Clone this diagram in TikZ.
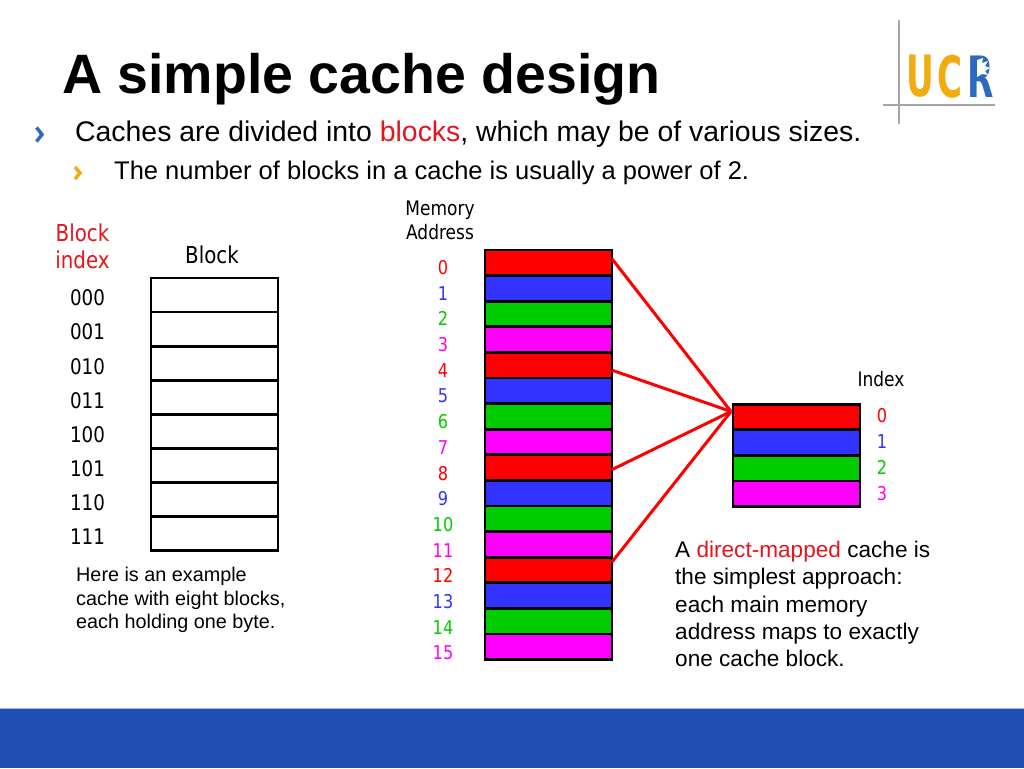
\documentclass[tikz,border=0pt]{standalone}
\usepackage{fontspec}
\setmainfont{Liberation Sans}
\newfontfamily\lbl[FakeStretch=0.85]{DejaVu Sans}
\newfontfamily\logof{DejaVu Sans}
\usetikzlibrary{calc}
\definecolor{cR}{RGB}{255,0,0}
\definecolor{cB}{RGB}{51,51,255}
\definecolor{cG}{RGB}{0,204,0}
\definecolor{cM}{RGB}{255,0,255}
\definecolor{txtR}{RGB}{230,20,30}
\definecolor{bar}{RGB}{32,78,178}
\definecolor{barlight}{RGB}{170,190,225}
\definecolor{ucy}{RGB}{240,172,16}
\definecolor{ucb}{RGB}{45,105,190}
\tikzset{
  x=1pt,y=-1pt,
  cell/.style={draw=black,line width=2.8pt,minimum width=127pt,inner sep=0pt,outer sep=0pt,anchor=center},
  memcell/.style={cell,minimum height=25.6pt},
  blk/.style={cell,minimum height=34.1pt,fill=white},
  lab/.style={font=\lbl\fontsize{20}{24}\selectfont,inner sep=0pt,align=center,anchor=center},
  big/.style={font=\lbl\fontsize{23.3}{27}\selectfont,inner sep=0pt,align=center,anchor=center},
  num/.style={font=\lbl\fontsize{21.5}{24}\selectfont,inner sep=0pt,anchor=center},
  dig/.style={font=\lbl\fontsize{19}{24}\selectfont,inner sep=0pt,anchor=center},
  note/.style={font=\fontsize{22.6}{27.3}\selectfont,inner sep=0pt,align=left,anchor=north west},
  small/.style={font=\fontsize{19.8}{23.7}\selectfont,inner sep=0pt,align=left,anchor=north west},
  logo/.style={inner sep=0pt,anchor=center,font=\logof\bfseries\fontsize{57}{57}\selectfont,xscale=0.6},
  wire/.style={draw=red,line width=3pt},
  chev/.style={line width=3.4pt,line join=miter,line cap=butt},
}
\begin{document}
\begin{tikzpicture}
\useasboundingbox (0,0) rectangle (1024,768);
\fill[white] (0,0) rectangle (1024,768);
\fill[bar] (0,708) rectangle (1024,768);
\fill[barlight] (0,707.5) rectangle (1024,709);
% logo
\draw[gray!70,line width=1.2pt] (899,20) -- (899,124);
\draw[gray!70,line width=1.2pt] (883,105) -- (995,105);
\node[logo,text=ucy] (logoU) at (920.5,76.5) {U};
\node[logo,text=ucy] (logoC) at (950,76.5) {C};
\node[logo,text=ucb] (logoR) at (980.5,76.5) {R};
\fill[ucb] (975,60) rectangle (986,74);
\fill[white] (977,60) -- (983,58) -- (982,63) -- (988,61) -- (985,66) -- (990,68) -- (985,71) -- (988,75) -- (982,74) -- (977,77) -- cycle;
% title and bullets
\node[inner sep=0pt,anchor=base west,font=\bfseries\fontsize{55.5}{60}\selectfont] (title) at (62,93) {A simple cache design};
\draw[chev,draw=ucb] (36.5,127.5) -- (42,134.5) -- (36.5,141.5);
\node[inner sep=0pt,anchor=base west,font=\fontsize{28.4}{32}\selectfont] (b1) at (75,141.5) {Caches are divided into \textcolor{txtR}{blocks}, which may be of various sizes.};
\draw[chev,draw=ucy] (75,167) -- (80,173) -- (75,179);
\node[inner sep=0pt,anchor=base west,font=\fontsize{25.5}{28}\selectfont] (b2) at (114,179) {The number of blocks in a cache is usually a power of 2.};
% left cache
\node[big,text=txtR] (bi) at (82.5,246) {Block\\index};
\node[big] (bl) at (212,254.5) {Block};
\foreach \i/\t in {0/000,1/001,2/010,3/011,4/100,5/101,6/110,7/111}{
  \node[blk] (b\i) at (214.5,{295+\i*34.1}) {};
  \node[num] (bt\i) at (87.5,{298+\i*34.1}) {\t};
}
\node[small] (ex) at (76,567) {Here is an example\\cache with eight blocks,\\each holding one byte.};
% memory
\node[lab] (ma) at (440,220) {Memory\\Address};
\foreach \i/\c in {0/cR,1/cB,2/cG,3/cM,4/cR,5/cB,6/cG,7/cM,8/cR,9/cB,10/cG,11/cM,12/cR,13/cB,14/cG,15/cM}{
  \node[memcell,fill=\c] (m\i) at (548.5,{262.8+\i*25.6}) {};
  \node[dig,text=\c] (mt\i) at (443,{267.5+\i*25.7}) {\i};
}
% small cache
\node[lab] (ix) at (881,379) {Index};
\foreach \i/\c in {0/cR,1/cB,2/cG,3/cM}{
  \node[memcell,fill=\c] (c\i) at (796.5,{417+\i*25.6}) {};
  \node[dig,text=\c] (ct\i) at (882,{416+\i*25.8}) {\i};
}
% connectors
\coordinate (hub) at (731,411.5);
\draw[wire] ([yshift=4pt]m0.east) -- (hub);
\draw[wire] ([yshift=-5pt]m4.east) -- (hub);
\draw[wire] ([yshift=-2pt]m8.east) -- (hub);
\draw[wire] ([yshift=8pt]m12.east) -- (hub);
\node[note] (dm) at (675,541) {A \textcolor{txtR}{direct-mapped} cache is\\the simplest approach:\\each main memory\\address maps to exactly\\one cache block.};
\end{tikzpicture}
\end{document}
